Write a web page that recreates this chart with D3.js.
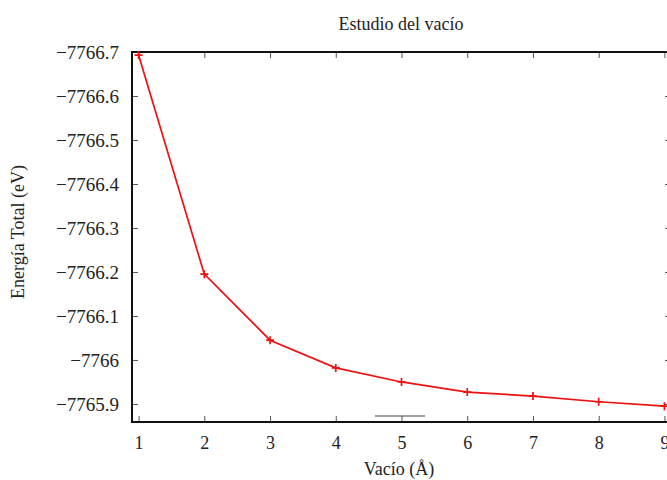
<!DOCTYPE html>
<html>
<head>
<meta charset="utf-8">
<script src="https://cdn.jsdelivr.net/npm/d3@7"></script>
<style>
  body { margin: 0; background: #fff; }
  svg { display: block; }
  text { font-family: "Liberation Serif", "DejaVu Serif", serif; fill: #222; }
</style>
</head>
<body>
<svg width="667" height="480"></svg>
<script>
// data
var vacio = [1, 2, 3, 4, 5, 6, 7, 8, 9];
var energia = [-7766.693, -7766.195, -7766.045, -7765.982, -7765.950, -7765.927, -7765.918, -7765.905, -7765.895];
var xTicks = [1, 2, 3, 4, 5, 6, 7, 8, 9];
var yTicks = [-7766.7, -7766.6, -7766.5, -7766.4, -7766.3, -7766.2, -7766.1, -7766, -7765.9];

var svg = d3.select('svg');

var plotLeft = 132, plotRight = 671, plotTop = 52, plotBottom = 422;

var xScale = d3.scaleLinear().domain([0.9, 9.1]).range([plotLeft, plotRight]);
var yScale = d3.scaleLinear().domain([-7766.7, -7765.859]).range([plotTop, plotBottom]);

function fmt(d) {
    return String(+d.toFixed(1)).replace('-', '\u2212');
}

// ticks (inward, mirrored on all sides)
var tickLen = 6;

svg.append('g').attr('class', 'x axis')
    .attr('transform', 'translate(0,' + plotBottom + ')')
    .call(d3.axisBottom(xScale).tickValues(xTicks).tickSizeInner(-tickLen).tickSizeOuter(0).tickPadding(14).tickFormat(d3.format('d')));

svg.append('g').attr('class', 'x axis2')
    .attr('transform', 'translate(0,' + plotTop + ')')
    .call(d3.axisTop(xScale).tickValues(xTicks).tickSizeInner(-tickLen).tickSizeOuter(0).tickFormat(''));

svg.append('g').attr('class', 'y axis')
    .attr('transform', 'translate(' + plotLeft + ',0)')
    .call(d3.axisLeft(yScale).tickValues(yTicks).tickSizeInner(-tickLen).tickSizeOuter(0).tickPadding(13).tickFormat(fmt));

svg.append('g').attr('class', 'y axis2')
    .attr('transform', 'translate(' + plotRight + ',0)')
    .call(d3.axisRight(yScale).tickValues(yTicks).tickSizeInner(-tickLen).tickSizeOuter(0).tickFormat(''));

svg.selectAll('.axis path, .axis2 path').remove();
svg.selectAll('.axis line, .axis2 line').attr('stroke', '#555').attr('stroke-width', 1);
svg.selectAll('.axis text')
    .style('font-family', '"Liberation Serif", serif')
    .style('font-size', '18px')
    .attr('fill', '#222');
svg.selectAll('.y.axis text').style('font-size', '19px');

// frame
svg.append('rect')
    .attr('x', plotLeft)
    .attr('y', plotTop)
    .attr('width', plotRight - plotLeft)
    .attr('height', plotBottom - plotTop)
    .attr('fill', 'none')
    .attr('stroke', '#111')
    .attr('stroke-width', 2);

// small key sample line
svg.append('line')
    .attr('x1', 375).attr('x2', 425)
    .attr('y1', 416).attr('y2', 416)
    .attr('stroke', '#444')
    .attr('stroke-width', 1);

// series
var points = vacio.map(function(d, i) { return [d, energia[i]]; });

svg.append('path')
    .datum(points)
    .attr('fill', 'none')
    .attr('stroke', '#ee1111')
    .attr('stroke-width', 1.7)
    .attr('d', d3.line()
        .x(function(d) { return xScale(d[0]); })
        .y(function(d) { return yScale(d[1]); }));

svg.append('g').selectAll('path')
    .data(points)
    .enter()
    .append('path')
    .attr('transform', function(d) { return 'translate(' + xScale(d[0]) + ',' + yScale(d[1]) + ')'; })
    .attr('d', 'M-4,0H4M0,-4V4')
    .attr('stroke', '#ee1111')
    .attr('stroke-width', 1.7);

// labels
svg.append('text')
    .attr('text-anchor', 'middle')
    .attr('transform', 'translate(401,30)')
    .style('font-size', '18px')
    .text('Estudio del vacío');

svg.append('text')
    .attr('text-anchor', 'middle')
    .attr('transform', 'translate(399,475)')
    .style('font-size', '18px')
    .text('Vacío (Å)');

svg.append('text')
    .attr('text-anchor', 'middle')
    .attr('transform', 'translate(24,232) rotate(-90)')
    .style('font-size', '18px')
    .text('Energía Total (eV)');
</script>
</body>
</html>
